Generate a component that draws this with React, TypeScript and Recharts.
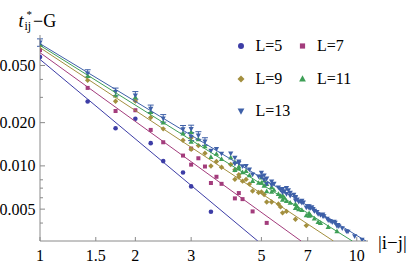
import React from "react";
import { ScatterChart, Scatter, XAxis, YAxis, ErrorBar } from "recharts";

const serif = "Liberation Serif, DejaVu Serif, serif";
const axisGray = "#8a8a8a";

// |i-j| of each point and t*_ij - G
const distL5 = [1, 1.414, 1.732, 2, 2.236, 2.449, 2.828, 3, 3.464];
const valL5 = [0.0573, 0.0281, 0.0183, 0.0213, 0.0144, 0.0108, 0.009, 0.0072, 0.0048];

const distL7 = [1, 1.414, 1.732, 2, 2.236, 2.449, 2.828, 3, 3, 3.162, 3.317, 3.464, 3.606, 3.742, 4.123, 4.243, 4.359, 4.69, 5.196];
const valL7 = [0.064, 0.0349, 0.0241, 0.0244, 0.0178, 0.0146, 0.0118, 0.0132, 0.0102, 0.0113, 0.0099, 0.0076, 0.0084, 0.0075, 0.00594, 0.00647, 0.00587, 0.00482, 0.00401];

const distL9 = [1, 1.414, 1.732, 2, 2.236, 2.449, 2.828, 3, 3, 3.162, 3.317, 3.464, 3.606, 3.742, 4, 4.123, 4.123, 4.243, 4.243, 4.359, 4.472, 4.583, 4.69, 4.899, 5, 5.099, 5.196, 5.385, 5.657, 5.745, 5.831, 6, 6.403, 6.928];
const valL9 = [0.0687, 0.0394, 0.0282, 0.0283, 0.0217, 0.0181, 0.0151, 0.0157, 0.01305, 0.01384, 0.01226, 0.00999, 0.01072, 0.00978, 0.01022, 0.00941, 0.00806, 0.00869, 0.00836, 0.00783, 0.00805, 0.00747, 0.00669, 0.00652, 0.00658, 0.00632, 0.00561, 0.0056, 0.00543, 0.00518, 0.00471, 0.00482, 0.00425, 0.00384];

const distL11 = [1, 1.414, 1.732, 2, 2.236, 2.449, 2.828, 3, 3, 3.162, 3.317, 3.464, 3.606, 3.742, 4, 4.123, 4.123, 4.243, 4.243, 4.359, 4.472, 4.583, 4.69, 4.899, 5, 5, 5.099, 5.099, 5.196, 5.196, 5.385, 5.385, 5.477, 5.657, 5.745, 5.745, 5.831, 5.831, 5.916, 6, 6.164, 6.403, 6.403, 6.481, 6.557, 6.708, 6.928, 7.071, 7.071, 7.141, 7.348, 7.55, 7.681, 8.124, 8.66];
const valL11 = [0.0708, 0.0421, 0.0308, 0.03, 0.0237, 0.02, 0.0168, 0.0172, 0.0147, 0.0153, 0.0137, 0.01153, 0.01211, 0.01115, 0.01141, 0.01061, 0.00935, 0.00988, 0.00957, 0.00903, 0.00919, 0.00861, 0.00783, 0.00761, 0.0083, 0.00763, 0.00791, 0.00727, 0.00747, 0.00665, 0.00711, 0.0066, 0.0068, 0.00637, 0.00617, 0.00611, 0.00623, 0.0058, 0.00598, 0.00569, 0.00554, 0.00542, 0.00509, 0.00522, 0.00498, 0.00493, 0.00452, 0.00468, 0.00449, 0.00453, 0.0043, 0.00406, 0.004, 0.00375, 0.0035];

const distL13 = [1, 1.414, 1.732, 2, 2.236, 2.449, 2.828, 3, 3, 3.162, 3.317, 3.464, 3.606, 3.742, 4, 4.123, 4.123, 4.243, 4.243, 4.359, 4.472, 4.583, 4.69, 4.899, 5, 5, 5.099, 5.099, 5.196, 5.196, 5.385, 5.385, 5.477, 5.657, 5.745, 5.745, 5.831, 5.831, 5.916, 6, 6, 6.083, 6.164, 6.164, 6.325, 6.403, 6.403, 6.403, 6.481, 6.557, 6.633, 6.708, 6.708, 6.782, 6.928, 7, 7.071, 7.071, 7.141, 7.211, 7.28, 7.348, 7.348, 7.483, 7.55, 7.681, 7.81, 7.81, 7.874, 8.062, 8.124, 8.246, 8.367, 8.485, 8.544, 8.66, 8.718, 8.775, 9, 9.274, 9.381, 9.849, 10.392];
const valL13 = [0.0723, 0.0441, 0.0328, 0.031, 0.025, 0.02145, 0.018, 0.0181, 0.016, 0.0163, 0.0148, 0.01276, 0.01312, 0.01219, 0.0122, 0.01142, 0.01037, 0.01073, 0.01047, 0.00994, 0.01, 0.00945, 0.00873, 0.00844, 0.00897, 0.00841, 0.0086, 0.00806, 0.00818, 0.00749, 0.0078, 0.00738, 0.00751, 0.00708, 0.00688, 0.00682, 0.00691, 0.00653, 0.00666, 0.00703, 0.00638, 0.00679, 0.00651, 0.00621, 0.0063, 0.00609, 0.00604, 0.00576, 0.00585, 0.00563, 0.00567, 0.00573, 0.00555, 0.00557, 0.00514, 0.00524, 0.00525, 0.00509, 0.0051, 0.00516, 0.00501, 0.00487, 0.00485, 0.00479, 0.00462, 0.00455, 0.0046, 0.00449, 0.00446, 0.0043, 0.00419, 0.00414, 0.00406, 0.00409, 0.00402, 0.00382, 0.00388, 0.00381, 0.00369, 0.00351, 0.00349, 0.00324, 0.00307];
// error bars only on the first L=13 points
const errL13 = [0.0043, 0.0026, 0.002, 0.0019, 0.0015, 0.0013, 0.0011, 0.0011, 0.001, 0.001, 0.0009];

// power-law fits: value at |i-j| = 1, and |i-j| where they leave the bottom of the plot
const fitAtOne = [0.0551, 0.0614, 0.0665, 0.069, 0.0709];
const fitEndDist = [4.87, 6.67, 8.44, 9.68, 10.69];
const fitFloor = 0.003;

const names = ["L=5", "L=7", "L=9", "L=11", "L=13"];
const colors = ["#3d3da6", "#a33c7c", "#a38f3e", "#3e9f56", "#3e60a8"];
const markers = ["circle", "square", "diamond", "up", "down"];

const xTicks = [1, 1.5, 2, 3, 5, 7, 10];
const yMajor = [0.005, 0.01, 0.02, 0.05];
const yMinor = [0.004, 0.006, 0.007, 0.008, 0.03, 0.04];

const dists = [distL5, distL7, distL9, distL11, distL13];
const vals = [valL5, valL7, valL9, valL11, valL13];
const errs = [[], [], [], [], errL13];

const series = names.map((name, s) => ({
	name,
	color: colors[s],
	marker: markers[s],
	points: dists[s].map((x, i) => ({x, y: vals[s][i], err: errs[s][i]})),
	fit: [
		{x: 1, y: fitAtOne[s]},
		{x: fitEndDist[s], y: fitFloor},
	],
}));

function Marker({cx, cy, kind, color, k = 1}: {cx: number; cy: number; kind: string; color: string; k?: number}) {
	if (kind === "circle") return <circle cx={cx} cy={cy} r={2.3 * k} fill={color} />;
	if (kind === "square") {
		const h = 2 * k;
		return <rect x={cx - h} y={cy - h} width={2 * h} height={2 * h} fill={color} />;
	}
	if (kind === "diamond") {
		const h = 2.7 * k;
		return <polygon points={`${cx},${cy - h} ${cx + h},${cy} ${cx},${cy + h} ${cx - h},${cy}`} fill={color} />;
	}
	const w = 2.6 * k;
	const d = kind === "up" ? 1 : -1;
	return (
		<polygon
			points={`${cx},${cy - 2.8 * k * d} ${cx + w},${cy + 1.9 * k * d} ${cx - w},${cy + 1.9 * k * d}`}
			fill={color}
		/>
	);
}

const XTick = (props: any) => {
	const {x, y, payload} = props;
	return (
		<g>
			<line x1={x} x2={x} y1={y} y2={y - 4} stroke={axisGray} />
			<text x={x} y={y + 20} textAnchor="middle" fontSize={16} style={{fontFamily: serif}} fill="#000">
				{String(payload.value)}
			</text>
		</g>
	);
};

const YTick = (props: any) => {
	const {x, y, payload} = props;
	const major = yMajor.includes(payload.value);
	return (
		<g>
			<line x1={x} x2={x + (major ? 5 : 3)} y1={y} y2={y} stroke={axisGray} />
			{major && (
				<text x={x - 4.5} y={y + 5.5} textAnchor="end" fontSize={16} style={{fontFamily: serif}} fill="#000">
					{payload.value.toFixed(3)}
				</text>
			)}
		</g>
	);
};

const legendCols = [241, 302.5];
const legendRows = [46, 79, 111];

export default function App() {
	return (
		<div style={{position: "absolute", left: 0, top: 0, width: 415, height: 264, background: "#fff", fontFamily: serif}}>
			<ScatterChart width={415} height={264} margin={{top: 35, right: 47, bottom: 0, left: 0}}>
				<XAxis
					type="number"
					dataKey="x"
					scale="log"
					domain={[1, 10.85]}
					allowDataOverflow
					ticks={xTicks}
					interval={0}
					tickSize={0}
					tickMargin={0}
					height={23}
					axisLine={{stroke: axisGray}}
					tick={<XTick />}
				/>
				<YAxis
					type="number"
					dataKey="y"
					scale="log"
					domain={[0.003, 0.0815]}
					allowDataOverflow
					ticks={[...yMinor, ...yMajor].sort((a, b) => a - b)}
					interval={0}
					tickSize={0}
					tickMargin={0}
					width={40}
					axisLine={{stroke: axisGray}}
					tick={<YTick />}
				/>
				{series.map((s) => (
					<Scatter
						key={s.name}
						name={s.name}
						data={s.points}
						isAnimationActive={false}
						shape={(p: any) => <Marker cx={p.cx} cy={p.cy} kind={s.marker} color={s.color} />}
					>
						{s.marker === "down" && (
							<ErrorBar dataKey="err" direction="y" width={3} stroke={s.color} strokeWidth={1} />
						)}
					</Scatter>
				))}
				{series.map((s) => (
					<Scatter
						key={s.name + "-fit"}
						data={s.fit}
						isAnimationActive={false}
						line={{stroke: s.color, strokeWidth: 1}}
						shape={() => <g />}
						legendType="none"
					/>
				))}
			</ScatterChart>
			<svg width={415} height={264} style={{position: "absolute", left: 0, top: 0, pointerEvents: "none", fontFamily: serif}}>
				<g fill="#000">
					<text x={18.5} y={26.5} fontSize={18} fontStyle="italic">t</text>
					<text x={26.5} y={17.5} fontSize={11}>*</text>
					<text x={24.5} y={30} fontSize={12}>ij</text>
					<text x={33} y={26.5} fontSize={18}>−G</text>
					<text x={378} y={249} fontSize={19}>|i−j|</text>
				</g>
				{series.map((s, i) => {
					const cx = legendCols[i % 2];
					const cy = legendRows[Math.floor(i / 2)];
					return (
						<g key={s.name}>
							<Marker cx={cx} cy={cy} kind={s.marker} color={s.color} k={1.3} />
							<text x={cx + 14.5} y={cy + 4.5} fontSize={16}>
								{s.name}
							</text>
						</g>
					);
				})}
			</svg>
		</div>
	);
}
